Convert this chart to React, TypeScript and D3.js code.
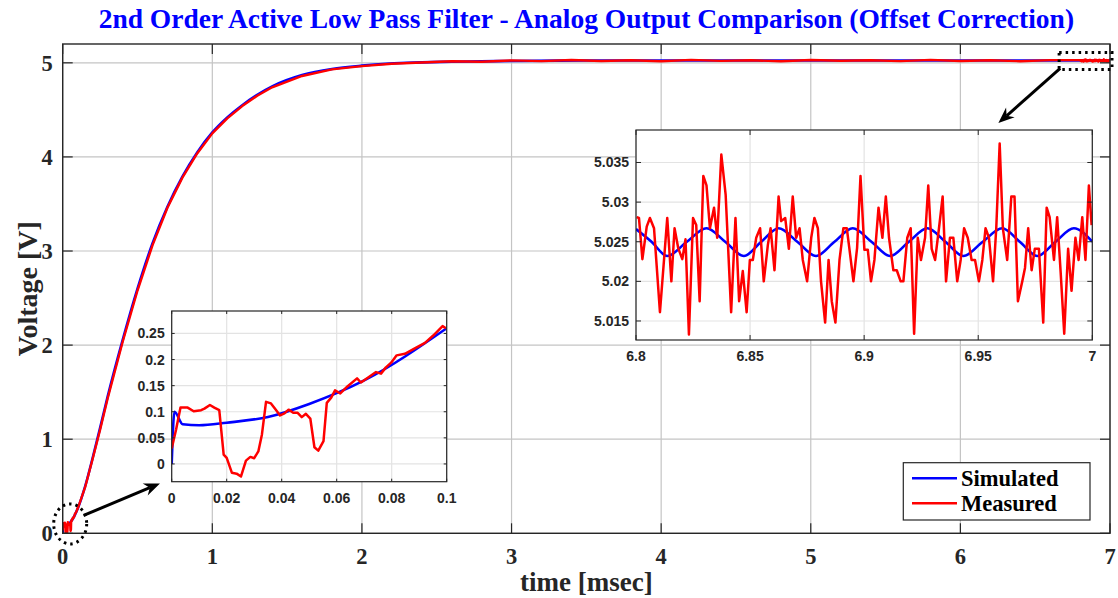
import React from 'react';
import * as d3 from 'd3';

// ---- data ----
const mainXTicks = [0, 1, 2, 3, 4, 5, 6, 7];
const mainYTicks = [0, 1, 2, 3, 4, 5];

// simulated step response (time in msec, volts)
const simTime = [0, 0.001, 0.004, 0.01, 0.02, 0.035, 0.05, 0.07, 0.1, 0.15, 0.2, 0.25, 0.3, 0.4, 0.5, 0.6, 0.7, 0.8, 0.9, 1.0, 1.1, 1.2, 1.3, 1.4, 1.6, 1.8, 2.0, 2.3, 2.6, 3.0, 3.5, 4.0, 5.0, 6.0, 7.0];
const simVolt = [0, 0.1, 0.076, 0.074, 0.079, 0.09, 0.115, 0.16, 0.26, 0.5, 0.8, 1.12, 1.45, 2.05, 2.6, 3.08, 3.47, 3.79, 4.05, 4.26, 4.42, 4.55, 4.66, 4.75, 4.87, 4.935, 4.97, 5.0, 5.012, 5.02, 5.024, 5.025, 5.025, 5.025, 5.025];

// measured output, start-up part (zoom 1)
const measStart: [number, number][] = [
  [0, 0.0295], [0.0016, 0.066], [0.0032, 0.108], [0.0058, 0.108], [0.008, 0.101], [0.0107, 0.103],
  [0.0119, 0.106], [0.0139, 0.113], [0.0155, 0.108], [0.0173, 0.103], [0.0189, 0.018], [0.02, 0.0115],
  [0.0219, -0.017], [0.0236, -0.0186], [0.0252, -0.024], [0.027, 0.0064], [0.0286, 0.0135], [0.03, 0.011],
  [0.0315, 0.024], [0.0328, 0.056], [0.0343, 0.119], [0.0361, 0.116], [0.038, 0.103], [0.0394, 0.093],
  [0.041, 0.097], [0.0425, 0.104], [0.0442, 0.098], [0.0458, 0.098], [0.0473, 0.0897], [0.0488, 0.096],
  [0.0504, 0.087], [0.0519, 0.032], [0.0533, 0.0256], [0.0552, 0.0436], [0.0564, 0.117], [0.058, 0.127],
  [0.0594, 0.141], [0.0613, 0.135], [0.064, 0.149], [0.0674, 0.164], [0.0688, 0.156], [0.0713, 0.165],
  [0.0743, 0.176], [0.0761, 0.173], [0.0779, 0.185], [0.0798, 0.194], [0.0818, 0.208], [0.0848, 0.211],
  [0.0879, 0.22], [0.0921, 0.232], [0.0951, 0.246], [0.0985, 0.264], [0.0997, 0.26],
];

// measured output, rise and plateau (main view)
const measRise: [number, number][] = [
  [0.15, 0.49], [0.2, 0.79], [0.25, 1.1], [0.3, 1.43], [0.4, 2.03], [0.5, 2.58], [0.6, 3.06], [0.7, 3.46],
  [0.8, 3.78], [0.9, 4.04], [1.0, 4.25], [1.1, 4.41], [1.2, 4.54], [1.3, 4.65], [1.4, 4.74], [1.6, 4.86],
  [1.8, 4.93], [2.0, 4.965], [2.2, 4.99], [2.4, 5.004], [2.6, 5.016], [2.8, 5.012], [3.0, 5.026],
  [3.2, 5.018], [3.4, 5.03], [3.6, 5.02], [3.8, 5.028], [4.0, 5.017], [4.2, 5.031], [4.4, 5.021],
  [4.6, 5.027], [4.8, 5.016], [5.0, 5.03], [5.2, 5.022], [5.4, 5.028], [5.6, 5.018], [5.8, 5.031],
  [6.0, 5.02], [6.2, 5.027], [6.4, 5.017], [6.6, 5.029],
];

// simulated ripple, zoom 2 (peaks / crossings / troughs)
const simRipple: [number, number][] = [
  [6.8, 5.0266], [6.8068, 5.025], [6.8137, 5.0232], [6.8223, 5.025], [6.8309, 5.0267], [6.8391, 5.025],
  [6.8473, 5.0232], [6.8549, 5.025], [6.8625, 5.0267], [6.8707, 5.025], [6.8789, 5.0232], [6.887, 5.025],
  [6.895, 5.0267], [6.9032, 5.025], [6.9114, 5.0232], [6.9196, 5.025], [6.9277, 5.0267], [6.9356, 5.025],
  [6.9435, 5.0232], [6.952, 5.025], [6.9605, 5.0267], [6.9682, 5.025], [6.9759, 5.0232], [6.9839, 5.025],
  [6.9919, 5.0267], [7.0, 5.025],
];

// measured samples, zoom 2
const measRipple: [number, number][] = [
  [6.8003, 5.0281], [6.8013, 5.028], [6.8028, 5.0228], [6.8047, 5.0269], [6.8061, 5.028], [6.8079, 5.0267],
  [6.8105, 5.0161], [6.8137, 5.028], [6.8155, 5.02], [6.8169, 5.0267], [6.8185, 5.0242], [6.8203, 5.0228],
  [6.8217, 5.0253], [6.8232, 5.0133], [6.825, 5.028], [6.8264, 5.0271], [6.8279, 5.0175], [6.8295, 5.0333],
  [6.8309, 5.0321], [6.8324, 5.0267], [6.8342, 5.0293], [6.8356, 5.0255], [6.8374, 5.036], [6.8393, 5.0309],
  [6.8417, 5.0161], [6.8436, 5.028], [6.8452, 5.0175], [6.8468, 5.0213], [6.8485, 5.0161], [6.8499, 5.0227],
  [6.8512, 5.0227], [6.8527, 5.0255], [6.8544, 5.0267], [6.856, 5.02], [6.8578, 5.0246], [6.859, 5.0267],
  [6.8607, 5.0214], [6.8625, 5.0307], [6.8636, 5.0276], [6.8654, 5.028], [6.867, 5.0241], [6.8687, 5.0307],
  [6.8702, 5.0255], [6.8717, 5.0267], [6.8731, 5.0227], [6.875, 5.02], [6.8768, 5.0255], [6.8782, 5.028],
  [6.8797, 5.0267], [6.8811, 5.02], [6.8829, 5.0148], [6.8844, 5.0227], [6.8858, 5.0175], [6.8874, 5.0148],
  [6.8892, 5.0227], [6.8909, 5.0267], [6.8924, 5.0267], [6.8935, 5.0242], [6.8953, 5.02], [6.8969, 5.0242],
  [6.8984, 5.0333], [6.9001, 5.024], [6.9016, 5.024], [6.903, 5.02], [6.9045, 5.0227], [6.9063, 5.0293],
  [6.908, 5.0255], [6.9095, 5.0307], [6.9109, 5.0255], [6.9128, 5.0214], [6.9143, 5.0214], [6.916, 5.02],
  [6.9172, 5.02], [6.9189, 5.0255], [6.9204, 5.0267], [6.9219, 5.0134], [6.9235, 5.0255], [6.9249, 5.0227],
  [6.9267, 5.0255], [6.9281, 5.0321], [6.9296, 5.0241], [6.9311, 5.0227], [6.9328, 5.0267], [6.9344, 5.0307],
  [6.9359, 5.02], [6.9376, 5.0255], [6.9391, 5.0255], [6.9408, 5.02], [6.9423, 5.0227], [6.9438, 5.0267],
  [6.9454, 5.0255], [6.9471, 5.0227], [6.9486, 5.0227], [6.9503, 5.02], [6.9518, 5.0227], [6.9532, 5.0267],
  [6.9547, 5.0255], [6.9565, 5.02], [6.9579, 5.0267], [6.9594, 5.0374], [6.9608, 5.0267], [6.9627, 5.0227],
  [6.9645, 5.0307], [6.9659, 5.0307], [6.9674, 5.0175], [6.9693, 5.02], [6.9705, 5.0217], [6.9719, 5.0267],
  [6.9734, 5.0214], [6.9748, 5.0241], [6.9766, 5.0241], [6.9785, 5.0148], [6.98, 5.0293], [6.9813, 5.0281],
  [6.9832, 5.0227], [6.9846, 5.0281], [6.9861, 5.0213], [6.9877, 5.0134], [6.9894, 5.0241], [6.9909, 5.0188],
  [6.9926, 5.0255], [6.994, 5.0227], [6.9956, 5.0281], [6.997, 5.0227], [6.9985, 5.0321], [6.9997, 5.0271],
];

const zoom1XTicks = [0, 0.02, 0.04, 0.06, 0.08, 0.1];
const zoom1XLabels = ['0', '0.02', '0.04', '0.06', '0.08', '0.1'];
const zoom1YTicks = [0, 0.05, 0.1, 0.15, 0.2, 0.25];
const zoom1YLabels = ['0', '0.05', '0.1', '0.15', '0.2', '0.25'];
const zoom2XTicks = [6.8, 6.85, 6.9, 6.95, 7];
const zoom2XLabels = ['6.8', '6.85', '6.9', '6.95', '7'];
const zoom2YTicks = [5.015, 5.02, 5.025, 5.03, 5.035];
const zoom2YLabels = ['5.015', '5.02', '5.025', '5.03', '5.035'];

const seriesNames = ['Simulated', 'Measured'];
const seriesColors = ['#0000ff', '#ff0000'];

const AXIS = '#262626';
const SERIF = '"Liberation Serif", "Times New Roman", serif';
const SANS = '"Liberation Sans", Arial, Helvetica, sans-serif';

type Pt = [number, number];

const Inset = ({ id, xs, ys, xTicks, xLabels, yTicks, yLabels, sim, meas, tickLen }: any) => {
  const [x0, x1] = xs.range();
  const [y0, y1] = ys.range();
  const line = d3.line<Pt>().x((d) => xs(d[0])).y((d) => ys(d[1]));
  return (
    <g>
      <defs>
        <clipPath id={id}>
          <rect x={x0} y={y1} width={x1 - x0} height={y0 - y1} />
        </clipPath>
      </defs>
      <rect x={x0} y={y1} width={x1 - x0} height={y0 - y1} fill="#fff" />
      {xTicks.map((t: number) => (
        <line key={'gx' + t} x1={xs(t)} x2={xs(t)} y1={y0} y2={y1} stroke="#e3e3e3" strokeWidth={1.2} />
      ))}
      {yTicks.map((t: number) => (
        <line key={'gy' + t} x1={x0} x2={x1} y1={ys(t)} y2={ys(t)} stroke="#e3e3e3" strokeWidth={1.2} />
      ))}
      <g clipPath={`url(#${id})`}>
        <path d={line.curve(d3.curveMonotoneX)(sim) || ''} fill="none" stroke={seriesColors[0]} strokeWidth={2.6} />
        <path d={line.curve(d3.curveLinear)(meas) || ''} fill="none" stroke={seriesColors[1]} strokeWidth={2.5} strokeLinejoin="round" />
      </g>
      {xTicks.map((t: number) => (
        <g key={'tx' + t}>
          <line x1={xs(t)} x2={xs(t)} y1={y0} y2={y0 - tickLen} stroke={AXIS} />
          <line x1={xs(t)} x2={xs(t)} y1={y1} y2={y1 + tickLen} stroke={AXIS} />
        </g>
      ))}
      {yTicks.map((t: number) => (
        <g key={'ty' + t}>
          <line x1={x0} x2={x0 + tickLen} y1={ys(t)} y2={ys(t)} stroke={AXIS} />
          <line x1={x1} x2={x1 - tickLen} y1={ys(t)} y2={ys(t)} stroke={AXIS} />
        </g>
      ))}
      <rect x={x0} y={y1} width={x1 - x0} height={y0 - y1} fill="none" stroke={AXIS} strokeWidth={1.2} />
      {xTicks.map((t: number, i: number) => (
        <text key={'lx' + t} x={xs(t)} y={y0 + 21} textAnchor="middle" fontFamily={SANS} fontWeight="bold" fontSize={14} fill={AXIS}>
          {xLabels[i]}
        </text>
      ))}
      {yTicks.map((t: number, i: number) => (
        <text key={'ly' + t} x={x0 - 7} y={ys(t) + 5} textAnchor="end" fontFamily={SANS} fontWeight="bold" fontSize={14} fill={AXIS}>
          {yLabels[i]}
        </text>
      ))}
    </g>
  );
};

const Arrow = ({ x1, y1, x2, y2 }: { x1: number; y1: number; x2: number; y2: number }) => {
  const a = Math.atan2(y2 - y1, x2 - x1);
  const len = 16, half = 6.5, notch = 11;
  const ux = Math.cos(a), uy = Math.sin(a);
  const bx = x2 - ux * len, by = y2 - uy * len;
  const head = [
    [x2, y2],
    [bx - uy * half, by + ux * half],
    [x2 - ux * notch, y2 - uy * notch],
    [bx + uy * half, by - ux * half],
  ];
  return (
    <g>
      <line x1={x1} y1={y1} x2={x2 - ux * notch} y2={y2 - uy * notch} stroke="#000" strokeWidth={3} />
      <polygon points={head.map((p) => p.join(',')).join(' ')} fill="#000" />
    </g>
  );
};

export default function App() {
  const W = 1118, H = 598;
  const x = d3.scaleLinear().domain([0, 7]).range([62.7, 1110]);
  const y = d3.scaleLinear().domain([0, 5.2]).range([533.3, 44]);
  const [xl, xr] = x.range();
  const [yb, yt] = y.range();

  const simMain: Pt[] = simTime.map((t, i) => [t, simVolt[i]]);
  const measMain: Pt[] = [...measStart, ...measRise, ...measRipple];
  const mainLine = d3.line<Pt>().x((d) => x(d[0])).y((d) => y(d[1]));

  const z1x = d3.scaleLinear().domain([0, 0.1]).range([171.7, 446.7]);
  const z1y = d3.scaleLinear().domain([-0.034, 0.293]).range([481.7, 311]);
  const z2x = d3.scaleLinear().domain([6.8, 7]).range([636, 1092.3]);
  const z2y = d3.scaleLinear().domain([5.0126, 5.0391]).range([340, 130]);

  const simZoom1 = simMain.filter((d) => d[0] <= 0.1);

  const mainTick = 10;

  return (
    <div style={{ position: 'absolute', left: 0, top: 0, width: W, height: H, background: '#fff' }}>
      <svg width={W} height={H} viewBox={`0 0 ${W} ${H}`}>
        <defs>
          <clipPath id="mainClip">
            <rect x={xl} y={yt} width={xr - xl} height={yb - yt} />
          </clipPath>
        </defs>
        <rect x={0} y={0} width={W} height={H} fill="#fff" />
        {/* main grid */}
        {mainXTicks.map((t) => (
          <line key={'mgx' + t} x1={x(t)} x2={x(t)} y1={yb} y2={yt} stroke="#c4c4c4" strokeWidth={1.2} />
        ))}
        {mainYTicks.map((t) => (
          <line key={'mgy' + t} x1={xl} x2={xr} y1={y(t)} y2={y(t)} stroke="#c4c4c4" strokeWidth={1.2} />
        ))}
        <g clipPath="url(#mainClip)">
          <path d={mainLine.curve(d3.curveMonotoneX)(simMain) || ''} fill="none" stroke={seriesColors[0]} strokeWidth={2.6} />
          <path d={mainLine.curve(d3.curveLinear)(measMain) || ''} fill="none" stroke={seriesColors[1]} strokeWidth={2.4} strokeLinejoin="round" />
        </g>
        {/* main ticks & box */}
        {mainXTicks.map((t) => (
          <g key={'mtx' + t}>
            <line x1={x(t)} x2={x(t)} y1={yb} y2={yb - mainTick} stroke={AXIS} strokeWidth={1.2} />
            <line x1={x(t)} x2={x(t)} y1={yt} y2={yt + mainTick} stroke={AXIS} strokeWidth={1.2} />
          </g>
        ))}
        {mainYTicks.map((t) => (
          <g key={'mty' + t}>
            <line x1={xl} x2={xl + mainTick} y1={y(t)} y2={y(t)} stroke={AXIS} strokeWidth={1.2} />
            <line x1={xr} x2={xr - mainTick} y1={y(t)} y2={y(t)} stroke={AXIS} strokeWidth={1.2} />
          </g>
        ))}
        <rect x={xl} y={yt} width={xr - xl} height={yb - yt} fill="none" stroke={AXIS} strokeWidth={1.4} />
        {mainXTicks.map((t) => (
          <text key={'mlx' + t} x={x(t)} y={564} textAnchor="middle" fontFamily={SERIF} fontWeight="bold" fontSize={22.5} fill={AXIS}>
            {t}
          </text>
        ))}
        {mainYTicks.map((t) => (
          <text key={'mly' + t} x={xl - 10} y={y(t) + 8} textAnchor="end" fontFamily={SERIF} fontWeight="bold" fontSize={22.5} fill={AXIS}>
            {t}
          </text>
        ))}

        {/* annotations */}
        <ellipse cx={x(0.05)} cy={y(0.1)} rx={16.5} ry={20} fill="none" stroke="#000" strokeWidth={3} strokeDasharray="2.5 4" />
        <rect x={x(6.66)} y={y(5.11)} width={x(7.0) - x(6.66) + 2} height={y(4.93) - y(5.11)} fill="none" stroke="#000" strokeWidth={3} strokeDasharray="2.5 4" />
        <Arrow x1={x(0.14)} y1={y(0.19)} x2={x(0.65)} y2={y(0.53)} />
        <Arrow x1={x(6.667)} y1={y(4.94)} x2={x(6.254)} y2={y(4.36)} />

        {/* zoom views */}
        <Inset id="z1" xs={z1x} ys={z1y} xTicks={zoom1XTicks} xLabels={zoom1XLabels} yTicks={zoom1YTicks} yLabels={zoom1YLabels} sim={simZoom1} meas={measStart} tickLen={3} />
        <Inset id="z2" xs={z2x} ys={z2y} xTicks={zoom2XTicks} xLabels={zoom2XLabels} yTicks={zoom2YTicks} yLabels={zoom2YLabels} sim={simRipple} meas={measRipple} tickLen={5} />

        {/* legend */}
        <rect x={903.3} y={462.7} width={186.7} height={57.3} fill="#fff" stroke={AXIS} strokeWidth={1.2} />
        {seriesNames.map((n, i) => (
          <g key={n}>
            <line x1={912} x2={957} y1={478.3 + i * 25} y2={478.3 + i * 25} stroke={seriesColors[i]} strokeWidth={2.4} />
            <text x={961} y={486 + i * 25} fontFamily={SERIF} fontWeight="bold" fontSize={22.5} fill="#000">
              {n}
            </text>
          </g>
        ))}

        {/* titles */}
        <text x={(xl + xr) / 2} y={28} textAnchor="middle" fontFamily={SERIF} fontWeight="bold" fontSize={27.5} fill="#0000ff">
          2nd Order Active Low Pass Filter - Analog Output Comparison (Offset Correction)
        </text>
        <text x={(xl + xr) / 2} y={591} textAnchor="middle" fontFamily={SERIF} fontWeight="bold" fontSize={27} fill={AXIS}>
          time [msec]
        </text>
        <text transform={`translate(37,${(yb + yt) / 2}) rotate(-90)`} textAnchor="middle" fontFamily={SERIF} fontWeight="bold" fontSize={28} fill={AXIS}>
          Voltage [V]
        </text>
      </svg>
    </div>
  );
}
